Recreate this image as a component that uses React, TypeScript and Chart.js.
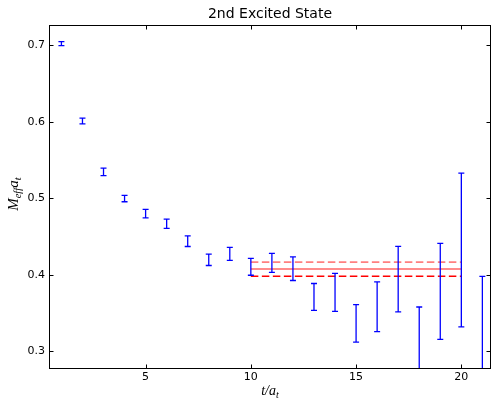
import React, { useEffect, useRef } from "react";
import { Chart, registerables } from "chart.js";

Chart.register(...registerables);

const tValues = [1, 2, 3, 4, 5, 6, 7, 8, 9, 10, 11, 12, 13, 14, 15, 16, 17, 18, 19, 20, 21];
const meffValues = [0.702, 0.601, 0.5345, 0.4997, 0.48, 0.4667, 0.444, 0.4196, 0.4273, 0.4105, 0.4156, 0.4081, 0.3712, 0.3771, 0.3367, 0.3583, 0.3944, 0.298, 0.3784, 0.4324, 0.29];
const meffErrors = [0.0026, 0.0037, 0.0048, 0.0042, 0.0055, 0.006, 0.007, 0.0074, 0.0085, 0.011, 0.0125, 0.0155, 0.0175, 0.0247, 0.0245, 0.0325, 0.0428, 0.06, 0.0627, 0.1004, 0.108];

const fitRange = [10, 20];
const fitValue = 0.4075;
const fitUpper = 0.4166;
const fitLower = 0.3983;

const xTickValues = [5, 10, 15, 20];
const yTickValues = [0.3, 0.4, 0.5, 0.6, 0.7];
const xLimits = [0.41, 21.41];
const yLimits = [0.277, 0.726];

const titleText = "2nd Excited State";

const FONT = "'DejaVu Sans', sans-serif";
const MATH = "'Liberation Serif', 'DejaVu Serif', serif";

const errorBarPlugin = {
  id: "errorBars",
  afterDatasetsDraw(chart: any) {
    const { ctx, chartArea, scales } = chart;
    const x = scales.x;
    const y = scales.y;
    ctx.save();
    ctx.beginPath();
    ctx.rect(chartArea.left, chartArea.top, chartArea.right - chartArea.left, chartArea.bottom - chartArea.top);
    ctx.clip();
    ctx.strokeStyle = "#0000ff";
    ctx.lineWidth = 1.3;
    tValues.forEach((t, i) => {
      const px = x.getPixelForValue(t);
      const top = y.getPixelForValue(meffValues[i] + meffErrors[i]);
      const bot = y.getPixelForValue(meffValues[i] - meffErrors[i]);
      ctx.beginPath();
      ctx.moveTo(px, top);
      ctx.lineTo(px, bot);
      ctx.moveTo(px - 3, top);
      ctx.lineTo(px + 3, top);
      ctx.moveTo(px - 3, bot);
      ctx.lineTo(px + 3, bot);
      ctx.stroke();
    });
    ctx.restore();
  },
};

function drawPieces(ctx: any, pieces: { text: string; size: number; dy: number }[]) {
  let total = 0;
  const widths = pieces.map((p) => {
    ctx.font = `italic ${p.size}px ${MATH}`;
    const w = ctx.measureText(p.text).width;
    total += w;
    return w;
  });
  let cx = -total / 2;
  pieces.forEach((p, i) => {
    ctx.font = `italic ${p.size}px ${MATH}`;
    ctx.fillText(p.text, cx, p.dy);
    cx += widths[i];
  });
}

const framePlugin = {
  id: "frame",
  afterDraw(chart: any) {
    const { ctx, chartArea, scales } = chart;
    const x = scales.x;
    const y = scales.y;
    const l = Math.round(chartArea.left) + 0.5;
    const r = Math.round(chartArea.right) - 0.5;
    const t = Math.round(chartArea.top) + 0.5;
    const b = Math.round(chartArea.bottom) - 0.5;
    ctx.save();
    ctx.strokeStyle = "#000";
    ctx.lineWidth = 1;
    ctx.strokeRect(l, t, r - l, b - t);
    ctx.beginPath();
    xTickValues.forEach((v) => {
      const px = Math.round(x.getPixelForValue(v)) + 0.5;
      ctx.moveTo(px, b);
      ctx.lineTo(px, b - 4);
      ctx.moveTo(px, t);
      ctx.lineTo(px, t + 4);
    });
    yTickValues.forEach((v) => {
      const py = Math.round(y.getPixelForValue(v)) + 0.5;
      ctx.moveTo(l, py);
      ctx.lineTo(l + 4, py);
      ctx.moveTo(r, py);
      ctx.lineTo(r - 4, py);
    });
    ctx.stroke();

    ctx.fillStyle = "#000";
    ctx.textBaseline = "alphabetic";
    ctx.textAlign = "left";
    // y-axis label
    ctx.save();
    ctx.translate(18, (chartArea.top + chartArea.bottom) / 2 - 3);
    ctx.rotate(-Math.PI / 2);
    drawPieces(ctx, [
      { text: "M", size: 15, dy: 0 },
      { text: "eff", size: 10.5, dy: 3 },
      { text: "a", size: 15, dy: 0 },
      { text: "t", size: 10.5, dy: 3 },
    ]);
    ctx.restore();
    // x-axis label
    ctx.save();
    ctx.translate((chartArea.left + chartArea.right) / 2, 395);
    drawPieces(ctx, [
      { text: "t/a", size: 14, dy: 0 },
      { text: "t", size: 10, dy: 3 },
    ]);
    ctx.restore();
    ctx.restore();
  },
};

export default function App() {
  const ref = useRef<HTMLCanvasElement | null>(null);

  useEffect(() => {
    if (!ref.current) return;
    Chart.defaults.font.family = FONT;
    const chart = new Chart(ref.current, {
      type: "scatter",
      data: {
        datasets: [
          {
            label: "fit",
            data: fitRange.map((v) => ({ x: v, y: fitValue })),
            showLine: true,
            borderColor: "rgba(255,0,0,0.45)",
            borderWidth: 2,
            pointRadius: 0,
          },
          {
            label: "fit upper",
            data: fitRange.map((v) => ({ x: v, y: fitUpper })),
            showLine: true,
            borderColor: "rgba(255,0,0,0.5)",
            borderWidth: 1.8,
            borderDash: [7.5, 3.5],
            pointRadius: 0,
          },
          {
            label: "fit lower",
            data: fitRange.map((v) => ({ x: v, y: fitLower })),
            showLine: true,
            borderColor: "#ff0000",
            borderWidth: 1.5,
            borderDash: [7.5, 3.5],
            pointRadius: 0,
          },
          {
            label: "Meff",
            data: tValues.map((t, i) => ({ x: t, y: meffValues[i] })),
            pointRadius: 0,
            showLine: false,
          },
        ],
      },
      options: {
        responsive: false,
        animation: false,
        layout: { padding: { left: 0, right: 1, top: 0, bottom: 0 } },
        plugins: {
          legend: { display: false },
          tooltip: { enabled: false },
          title: {
            display: true,
            text: titleText,
            fullSize: false,
            color: "#000",
            font: { size: 14, weight: "normal", family: FONT },
            padding: { top: 5.5, bottom: 3 },
          },
        },
        scales: {
          x: {
            type: "linear",
            min: xLimits[0],
            max: xLimits[1],
            grid: { display: false, drawTicks: false },
            border: { display: false },
            ticks: { color: "#000", font: { size: 11 }, padding: 2, maxRotation: 0 },
            afterBuildTicks: (s: any) => {
              s.ticks = xTickValues.map((v) => ({ value: v }));
            },
            afterFit: (s: any) => {
              s.height = 31;
            },
          },
          y: {
            type: "linear",
            min: yLimits[0],
            max: yLimits[1],
            grid: { display: false, drawTicks: false },
            border: { display: false },
            ticks: {
              color: "#000",
              font: { size: 11 },
              padding: 4,
              callback: (v: any) => Number(v).toFixed(1),
            },
            afterBuildTicks: (s: any) => {
              s.ticks = yTickValues.map((v) => ({ value: v }));
            },
            afterFit: (s: any) => {
              s.width = 49;
            },
          },
        },
      } as any,
      plugins: [errorBarPlugin, framePlugin],
    });
    return () => chart.destroy();
  }, []);

  return (
    <div style={{ position: "fixed", left: 0, top: 0, width: 492, height: 400, background: "#fff" }}>
      <canvas ref={ref} width={492} height={400} />
    </div>
  );
}
